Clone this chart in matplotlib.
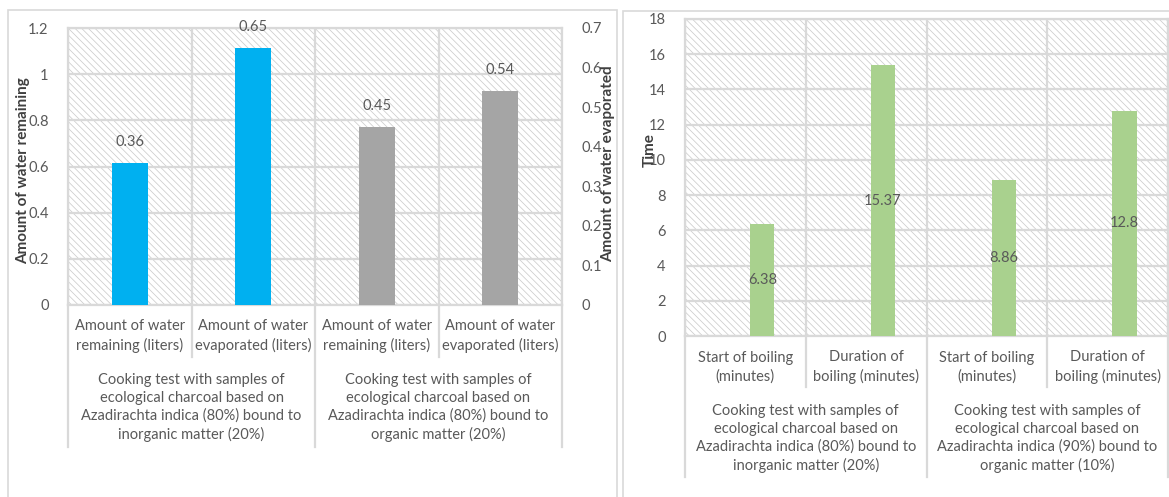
import matplotlib.pyplot as plt
from matplotlib.patches import Rectangle

# left chart: water test (values on the secondary axis)
water_cats = ["Amount of water\nremaining (liters)", "Amount of water\nevaporated (liters)",
              "Amount of water\nremaining (liters)", "Amount of water\nevaporated (liters)"]
water_vals = [0.36, 0.65, 0.45, 0.54]
water_cols = ["#00B0F0", "#00B0F0", "#A5A5A5", "#A5A5A5"]
water_groups = ["Cooking test with samples of\necological charcoal based on\nAzadirachta indica (80%) bound to\ninorganic matter (20%)",
                "Cooking test with samples of\necological charcoal based on\nAzadirachta indica (80%) bound to\norganic matter (20%)"]

# right chart: boiling times
time_cats = ["Start of boiling\n(minutes)", "Duration of\nboiling (minutes)",
             "Start of boiling\n(minutes)", "Duration of\nboiling (minutes)"]
time_vals = [6.38, 15.37, 8.86, 12.8]
time_groups = ["Cooking test with samples of\necological charcoal based on\nAzadirachta indica (80%) bound to\ninorganic matter (20%)",
               "Cooking test with samples of\necological charcoal based on\nAzadirachta indica (90%) bound to\norganic matter (10%)"]

plt.rcParams['font.family'] = ['Lato', 'DejaVu Sans']
plt.rcParams['hatch.linewidth'] = 0.55
TXT = "#595959"
GRID = "#d9d9d9"
FS = 10.5

W, H = 1169, 497
fig = plt.figure(figsize=(W / 100, H / 100), dpi=100)


def px_axes(x0, y0, x1, y1):
    return fig.add_axes([x0 / W, 1 - y1 / H, (x1 - x0) / W, (y1 - y0) / H])


# panel frames
fig.patches.append(Rectangle((8 / W, -0.1), 609 / W, 1.1 - 10 / H, transform=fig.transFigure,
                             fill=False, edgecolor=GRID, lw=1.2))
fig.patches.append(Rectangle((623 / W, -0.1), 560 / W, 1.1 - 11 / H, transform=fig.transFigure,
                             fill=False, edgecolor=GRID, lw=1.2))


def style_axes(ax, n):
    ax.add_patch(Rectangle((0, 0), 1, 1, transform=ax.transAxes, facecolor="white",
                           edgecolor="#cccccc", hatch="\\" * 5, lw=0, zorder=0))
    ax.set_xlim(-0.5, n - 0.5)
    ax.set_xticks(range(n))
    ax.set_xticklabels([])
    ax.set_xticks([i + 0.5 for i in range(-1, n)], minor=True)
    ax.tick_params(axis="x", which="both", length=0)
    ax.grid(True, which="minor", axis="x", color=GRID, lw=1.6)
    ax.grid(True, which="major", axis="y", color=GRID, lw=1.6)
    ax.set_axisbelow(True)
    for s in ax.spines.values():
        s.set_color(GRID)
        s.set_linewidth(1.6)
    ax.tick_params(axis="y", length=0, labelsize=FS, labelcolor=TXT, pad=14)


def category_labels(ax, cats, groups, y_in, y_grp, y_sep_in, y_sep_out):
    tr = ax.get_xaxis_transform()
    for i, c in enumerate(cats):
        ax.text(i, y_in, c, transform=tr, ha="center", va="center", fontsize=FS,
                color=TXT, linespacing=1.35)
    for g, lab in enumerate(groups):
        ax.text(2 * g + 0.5, y_grp, lab, transform=tr, ha="center", va="center",
                fontsize=FS, color=TXT, linespacing=1.35)
    for b in [-0.5, 0.5, 1.5, 2.5, 3.5]:
        y_end = y_sep_out if b in (-0.5, 1.5, 3.5) else y_sep_in
        ax.plot([b, b], [0, y_end], transform=tr, color=GRID, lw=1.6, clip_on=False)


# ---------- left chart ----------
ax1 = px_axes(68, 28, 562, 305)
style_axes(ax1, len(water_vals))
ax1.set_ylim(0, 1.2)
ax1.set_yticks([0, 0.2, 0.4, 0.6, 0.8, 1.0, 1.2])
ax1.set_yticklabels(["0", "0.2", "0.4", "0.6", "0.8", "1", "1.2"])
category_labels(ax1, water_cats, water_groups, -0.112, -0.370, -0.188, -0.513)

ax1b = ax1.twinx()
ax1b.set_ylim(0, 0.7)
ax1b.set_yticks([0, 0.1, 0.2, 0.3, 0.4, 0.5, 0.6, 0.7])
ax1b.set_yticklabels(["0", "0.1", "0.2", "0.3", "0.4", "0.5", "0.6", "0.7"])
ax1b.tick_params(axis="y", length=0, labelsize=FS, labelcolor=TXT, pad=14)
for s in ax1b.spines.values():
    s.set_visible(False)
bars = ax1b.bar(range(len(water_vals)), water_vals, width=0.29, color=water_cols, zorder=3)
for b, v in zip(bars, water_vals):
    ax1b.annotate(f"{v:g}", (b.get_x() + b.get_width() / 2, v), xytext=(0, 15),
                  textcoords="offset points", ha="center", va="center",
                  fontsize=FS, color=TXT)

fig.text(23 / W, 1 - 171 / H, "Amount of water remaining", rotation=90, ha="center",
         va="center", fontsize=FS + 0.5, fontweight="bold", color="#404040")
fig.text(608 / W, 1 - 164 / H, "Amount of water evaporated", rotation=90, ha="center",
         va="center", fontsize=FS + 0.5, fontweight="bold", color="#404040")

# ---------- right chart ----------
ax2 = px_axes(685, 19, 1168, 336)
style_axes(ax2, len(time_vals))
ax2.set_ylim(0, 18)
ax2.set_yticks(range(0, 19, 2))
category_labels(ax2, time_cats, time_groups, -0.098, -0.323, -0.161, -0.445)

xs = [i + 0.14 for i in range(len(time_vals))]
ax2.bar(xs, time_vals, width=0.2, color="#A9D18E", zorder=3)
for x, v in zip(xs, time_vals):
    ax2.text(x, v / 2, f"{v:g}", ha="center", va="center", fontsize=FS, color=TXT, zorder=4)

fig.text(650 / W, 1 - 150 / H, "Time", rotation=90, ha="center", va="center",
         fontsize=FS + 0.5, fontweight="bold", color="#404040")

fig.savefig("out.png", dpi=100)
